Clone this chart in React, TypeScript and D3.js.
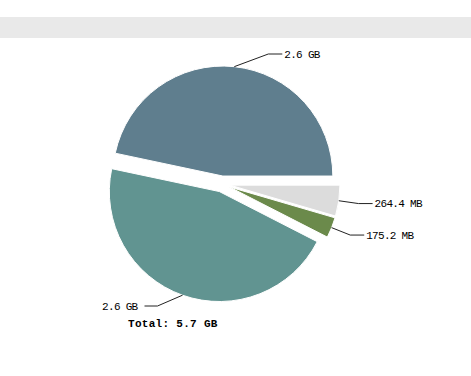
import React from "react";
import * as d3 from "d3";

// Slice data in MB, drawn clockwise from 3 o'clock
const sliceNames = ["Free", "Other", "Used B", "Used A"];
const sliceValues = [264.4, 175.2, 2673, 2724];
const sliceLabels = ["264.4 MB", "175.2 MB", "2.6 GB", "2.6 GB"];
const sliceColors = ["#dcdcdc", "#6b8a4b", "#619491", "#5f7e8e"];
const totalLabel = "Total: 5.7 GB";

const W = 471;
const H = 376;

export default function App() {
  const cx = 222;
  const cy = 184;
  const r = 110;
  const explode = 8;
  const rLabel = 138;
  const yMin = 54;
  const yMax = 306;

  const pie = d3
    .pie<number>()
    .sort(null)
    .startAngle(Math.PI / 2)
    .endAngle(Math.PI / 2 + 2 * Math.PI);
  const arcs = pie(sliceValues);
  const arcGen = d3.arc<d3.PieArcDatum<number>>().innerRadius(0).outerRadius(r);

  const mono = "'Liberation Mono', 'DejaVu Sans Mono', monospace";

  return (
    <svg
      width={W}
      height={H}
      style={{ position: "absolute", left: 0, top: 0, background: "#fff" }}
    >
      <rect x={0} y={17} width={W} height={21} fill="#e9e9e9" />
      {arcs.map((a, i) => {
        const mid = (a.startAngle + a.endAngle) / 2;
        const tx = Math.sin(mid) * explode;
        const ty = -Math.cos(mid) * explode;
        // connector
        const sx = cx + tx + Math.sin(mid) * r;
        const sy = cy + ty - Math.cos(mid) * r;
        let ly = cy - Math.cos(mid) * rLabel;
        ly = Math.max(yMin, Math.min(yMax, ly));
        const dy = ly - cy;
        const right = Math.sin(mid) >= 0;
        const dx = Math.sqrt(Math.max(0, rLabel * rLabel - dy * dy));
        const ex = right ? cx + dx : cx - dx;
        const hx = right ? ex + 14 : ex - 13;
        const textX = right ? hx + 2 : hx - 7;
        return (
          <g key={sliceNames[i]}>
            <path
              d={arcGen(a) || ""}
              transform={`translate(${cx + tx},${cy + ty})`}
              fill={sliceColors[i]}
              stroke="#fff"
              strokeWidth={1}
            />
            <path
              d={`M${sx},${sy}L${ex},${ly}L${hx},${ly}`}
              fill="none"
              stroke="#222"
              strokeWidth={1}
            />
            <text
              x={textX}
              y={ly}
              dy="0.35em"
              textAnchor={right ? "start" : "end"}
              fontFamily={mono}
              fontSize={11}
              letterSpacing={-0.7}
              fill="#000"
            >
              {sliceLabels[i]}
            </text>
          </g>
        );
      })}
      <text
        x={cx - 94}
        y={yMax + 17}
        dy="0.35em"
        fontFamily={mono}
        fontSize={11}
        fontWeight="bold"
        letterSpacing={0.3}
        fill="#000"
      >
        {totalLabel}
      </text>
    </svg>
  );
}
